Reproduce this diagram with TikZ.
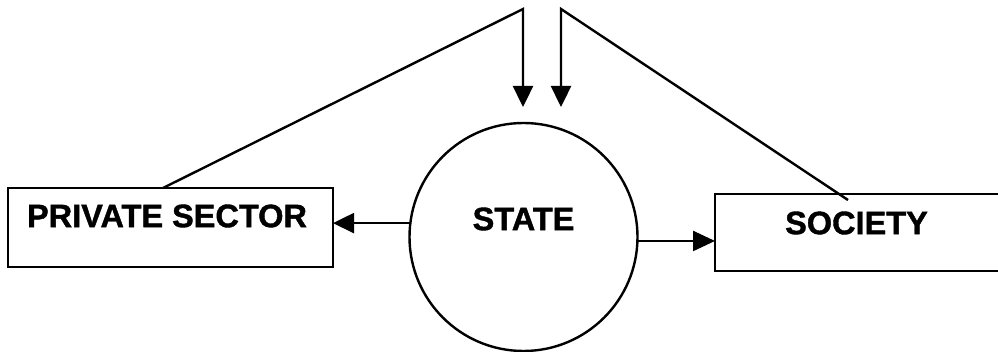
\documentclass[tikz,border=0pt]{standalone}
\usepackage{fontspec}
\setmainfont{Liberation Sans}[BoldFeatures={FakeBold=1.2}]
\usetikzlibrary{arrows.meta}
\begin{document}
\begin{tikzpicture}[x=1pt,y=-1pt,
  boxnode/.style={draw,line width=2.6pt,rectangle,inner sep=0pt,outer sep=0pt},
  lbl/.style={font=\fontsize{32.5}{36}\selectfont\bfseries,inner sep=0pt},
  conn/.style={line width=2.4pt},
  tipped/.style={conn,-{Triangle[length=21pt,width=20pt]}}]
\useasboundingbox (0,0) rectangle (998,352);
\begin{scope}
\clip (0,0) rectangle (998,352);
\node[boxnode,minimum width=325pt,minimum height=79pt] (ps) at (170.5,227.5) {};
\node[boxnode,minimum width=300pt,minimum height=77pt] (soc) at (865,232.5) {};
\node[draw,circle,line width=2.4pt,minimum size=228pt,inner sep=0pt,outer sep=0pt] (state) at (523.5,237) {};
\end{scope}
\node[lbl] (pst) at (167,216) {PRIVATE SECTOR};
\node[lbl] (sct) at (856.5,223) {SOCIETY};
\node[lbl] (stt) at (523.5,219) {STATE};
\coordinate (la) at (163,188);
\coordinate (lt) at (523,9);
\coordinate (lb) at (523,107);
\coordinate (ra) at (848,200);
\coordinate (rt) at (561,9);
\coordinate (rb) at (561,107);
\draw[tipped,line join=miter] (la) -- (lt) -- (lb);
\draw[tipped,line join=miter] (ra) -- (rt) -- (rb);
\draw[tipped] (state.173.5) -- (state.173.5 -| ps.east);
\draw[tipped,-{Triangle[length=22pt,width=20pt]}] (state.-2.5) -- (state.-2.5 -| soc.west);
\end{tikzpicture}
\end{document}
